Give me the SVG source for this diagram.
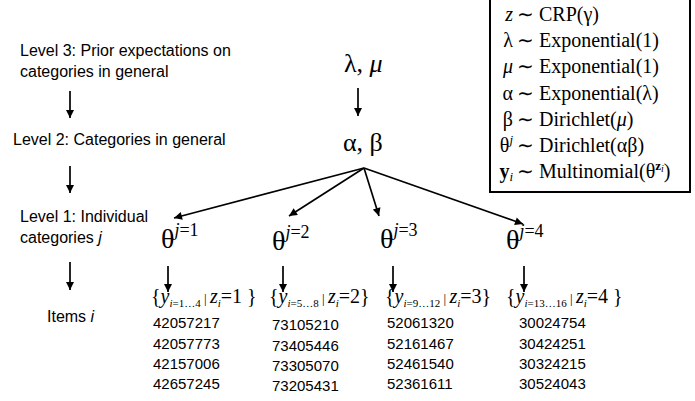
<svg xmlns="http://www.w3.org/2000/svg" width="695" height="401" viewBox="0 0 695 401">
<style>
.lbl{font-family:"Liberation Sans",Arial,sans-serif;font-size:16px;fill:#000}
.num{font-family:"Liberation Sans",Arial,sans-serif;font-size:15px;fill:#000}
.m{font-family:"Liberation Serif","Times New Roman",serif;fill:#000}
.big{font-size:26px}
.th{font-size:28px}
.box{font-size:20px}
.set{font-size:20px}
.it{font-style:italic}
.bf{font-weight:bold}
.ln{stroke:#000;stroke-width:1.7;fill:none}
</style>
<defs>
<marker id="ah" viewBox="0 0 10 10" refX="10" refY="5" markerWidth="10" markerHeight="8" markerUnits="userSpaceOnUse" orient="auto">
<path d="M0,0 L10,5 L0,10 Z" fill="#000"/>
</marker>
</defs>
<rect width="695" height="401" fill="#fff"/>

<g id="model-box">
<rect x="490" y="-1" width="200" height="193" fill="#fff" stroke="#000" stroke-width="2"/>
<g class="m box">
<text x="513" y="21" text-anchor="end" class="it">z</text>
<text x="517" y="21">∼ CRP(γ)</text>
<text x="513" y="47" text-anchor="end">λ</text>
<text x="517" y="47">∼ Exponential(1)</text>
<text x="513" y="73" text-anchor="end" class="it">μ</text>
<text x="517" y="73">∼ Exponential(1)</text>
<text x="513" y="100" text-anchor="end">α</text>
<text x="517" y="100">∼ Exponential(λ)</text>
<text x="513" y="126" text-anchor="end">β</text>
<text x="517" y="126">∼ Dirichlet(<tspan class="it">μ</tspan>)</text>
<text x="513" y="152" text-anchor="end">θ<tspan class="it" font-size="13" dy="-8">j</tspan></text>
<text x="517" y="152">∼ Dirichlet(αβ)</text>
<text x="513" y="178" text-anchor="end"><tspan class="bf">y</tspan><tspan class="it" font-size="13" dy="3">i</tspan></text>
<text x="517" y="178">∼ Multinomial(θ<tspan class="bf" font-size="13" dy="-8">z</tspan><tspan class="it" font-size="10" dy="2">i</tspan><tspan dy="6">)</tspan></text>
</g>
</g>

<g id="level3"><text class="lbl" x="20" y="56" font-size="16.5">Level 3: Prior expectations on</text><text class="lbl" x="20" y="77" font-size="16.5">categories in general</text></g>
<g id="level2"><text class="lbl" x="13" y="145">Level 2: Categories in general</text></g>
<g id="level1"><text class="lbl" x="20" y="222">Level 1: Individual</text><text class="lbl" x="20" y="243">categories <tspan font-style="italic">j</tspan></text></g>
<g id="items"><text class="lbl" x="47" y="322">Items <tspan font-style="italic">i</tspan></text></g>

<g id="lambda-mu"><text class="m big" x="344" y="72">λ, <tspan class="it">μ</tspan></text></g>
<g id="alpha-beta"><text class="m big" x="343" y="151">α, β</text></g>

<g id="theta1"><text class="m th" x="161" y="248">θ<tspan font-size="18" dy="-12"><tspan class="it">j</tspan>=1</tspan></text></g>
<g id="theta2"><text class="m th" x="272" y="250">θ<tspan font-size="18" dy="-12"><tspan class="it">j</tspan>=2</tspan></text></g>
<g id="theta3"><text class="m th" x="380" y="248">θ<tspan font-size="18" dy="-12"><tspan class="it">j</tspan>=3</tspan></text></g>
<g id="theta4"><text class="m th" x="506" y="249">θ<tspan font-size="18" dy="-12"><tspan class="it">j</tspan>=4</tspan></text></g>

<g id="items1">
<text class="m set" x="151" y="303">{<tspan class="it">y</tspan><tspan font-size="11" dy="4"><tspan class="it">i</tspan>=1…4</tspan><tspan font-size="13" dy="-4"> | </tspan><tspan class="it">z</tspan><tspan class="it" font-size="11" dy="4">i</tspan><tspan dy="-4">=1 }</tspan></text>
<text class="num" x="153" y="328">42057217</text><text class="num" x="153" y="349">42057773</text><text class="num" x="153" y="369">42157006</text><text class="num" x="153" y="389">42657245</text>
</g>
<g id="items2">
<text class="m set" x="269" y="303">{<tspan class="it">y</tspan><tspan font-size="11" dy="4"><tspan class="it">i</tspan>=5…8</tspan><tspan font-size="13" dy="-4"> | </tspan><tspan class="it">z</tspan><tspan class="it" font-size="11" dy="4">i</tspan><tspan dy="-4">=2}</tspan></text>
<text class="num" x="272" y="330">73105210</text><text class="num" x="272" y="351">73405446</text><text class="num" x="272" y="371">73305070</text><text class="num" x="272" y="391">73205431</text>
</g>
<g id="items3">
<text class="m set" x="385" y="303">{<tspan class="it">y</tspan><tspan font-size="11" dy="4"><tspan class="it">i</tspan>=9…12</tspan><tspan font-size="13" dy="-4"> | </tspan><tspan class="it">z</tspan><tspan class="it" font-size="11" dy="4">i</tspan><tspan dy="-4">=3}</tspan></text>
<text class="num" x="387" y="328">52061320</text><text class="num" x="387" y="349">52161467</text><text class="num" x="387" y="369">52461540</text><text class="num" x="387" y="389">52361611</text>
</g>
<g id="items4">
<text class="m set" x="506" y="303">{<tspan class="it">y</tspan><tspan font-size="11" dy="4"><tspan class="it">i</tspan>=13…16</tspan><tspan font-size="13" dy="-4"> | </tspan><tspan class="it">z</tspan><tspan class="it" font-size="11" dy="4">i</tspan><tspan dy="-4">=4 }</tspan></text>
<text class="num" x="519" y="328">30024754</text><text class="num" x="519" y="349">30424251</text><text class="num" x="519" y="369">30324215</text><text class="num" x="519" y="389">30524043</text>
</g>

<g id="connectors" class="ln">
<line x1="70" y1="91" x2="70" y2="118" marker-end="url(#ah)"/>
<line x1="70" y1="166" x2="70" y2="193" marker-end="url(#ah)"/>
<line x1="70" y1="262" x2="70" y2="290" marker-end="url(#ah)"/>
<line x1="358" y1="88" x2="358" y2="116" marker-end="url(#ah)"/>
<line x1="364" y1="168" x2="174" y2="218" marker-end="url(#ah)"/>
<line x1="364" y1="168" x2="289" y2="216" marker-end="url(#ah)"/>
<line x1="364" y1="168" x2="379" y2="216" marker-end="url(#ah)"/>
<line x1="364" y1="168" x2="523" y2="224" marker-end="url(#ah)"/>
<line x1="168" y1="266" x2="168" y2="292" marker-end="url(#ah)"/>
<line x1="283" y1="266" x2="283" y2="292" marker-end="url(#ah)"/>
<line x1="393" y1="266" x2="393" y2="292" marker-end="url(#ah)"/>
<line x1="524" y1="266" x2="524" y2="292" marker-end="url(#ah)"/>
</g>
</svg>
